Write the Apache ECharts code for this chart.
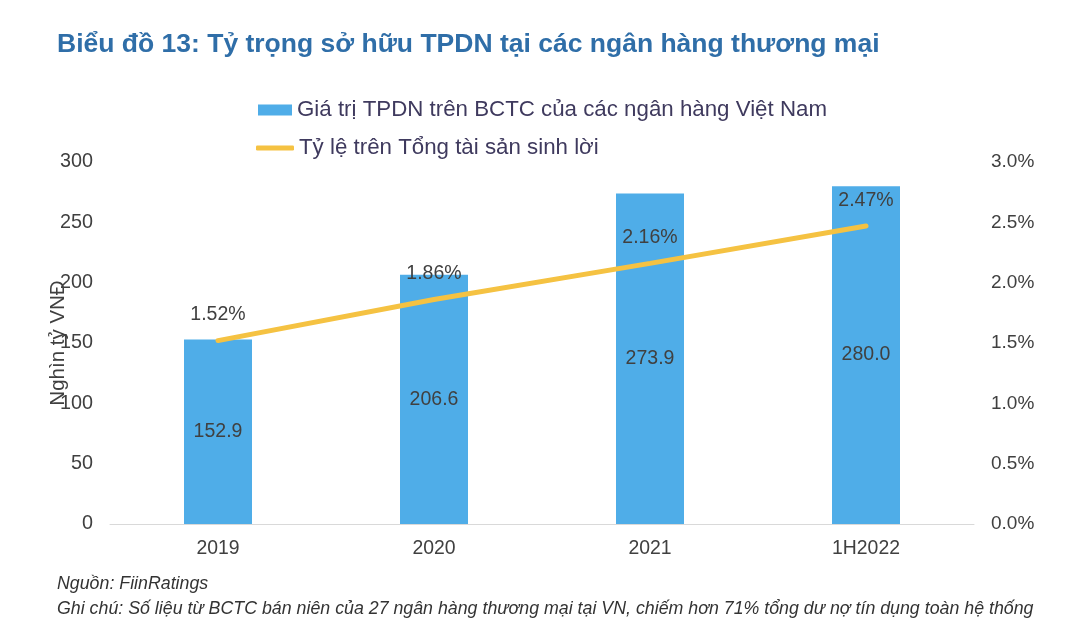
<!DOCTYPE html>
<html><head><meta charset="utf-8">
<script src="https://cdn.jsdelivr.net/npm/echarts@6/dist/echarts.min.js"></script>
<style>html,body{margin:0;padding:0;background:#fff}#c{width:1076px;height:640px}</style>
</head><body><div id="c"></div>
<script>
var categories = ['2019', '2020', '2021', '1H2022'];
var barValues = [152.9, 206.6, 273.9, 280.0];
var ratioValues = [1.52, 1.86, 2.16, 2.47];
var barName = 'Giá trị TPDN trên BCTC của các ngân hàng Việt Nam';
var lineName = 'Tỷ lệ trên Tổng tài sản sinh lời';

var F = '"Liberation Sans", Arial, sans-serif';
var chart = echarts.init(document.getElementById('c'));
chart.setOption({
  animation: false,
  textStyle: { fontFamily: F },
  title: [
    { text: 'Biểu đồ 13: Tỷ trọng sở hữu TPDN tại các ngân hàng thương mại', left: 52, top: 26,
      textStyle: { fontFamily: F, fontSize: 26.5, fontWeight: 'bold', color: '#2F6EA8' } },
    { text: 'Nguồn: FiinRatings', left: 52, top: 570,
      textStyle: { fontFamily: F, fontSize: 17.8, fontStyle: 'italic', fontWeight: 'normal', color: '#333' } },
    { text: 'Ghi chú: Số liệu từ BCTC bán niên của 27 ngân hàng thương mại tại VN, chiếm hơn 71% tổng dư nợ tín dụng toàn hệ thống', left: 52, top: 595,
      textStyle: { fontFamily: F, fontSize: 17.8, fontStyle: 'italic', fontWeight: 'normal', color: '#333' } }
  ],
  legend: [
    { data: [{ name: barName, icon: 'rect' }], left: 253, top: 94, itemWidth: 34, itemHeight: 11, itemGap: 6,
      textStyle: { fontFamily: F, fontSize: 22.3, color: '#3F3A5E' } },
    { data: [{ name: lineName, icon: 'roundRect' }], left: 251, top: 132, itemWidth: 38, itemHeight: 5, itemGap: 4,
      textStyle: { fontFamily: F, fontSize: 22.3, color: '#3F3A5E' } }
  ],
  grid: { left: 110, right: 102, top: 162, bottom: 116, containLabel: false },
  xAxis: {
    type: 'category', data: categories,
    axisLine: { lineStyle: { color: '#D9D9D9', width: 1 } },
    axisTick: { show: false },
    axisLabel: { fontSize: 19.4, color: '#404040', margin: 15, fontFamily: F }
  },
  yAxis: [
    { type: 'value', min: 0, max: 300, interval: 50,
      name: 'Nghìn tỷ VNĐ', nameLocation: 'middle', nameGap: 41, nameRotate: 90, nameMoveOverlap: false,
      nameTextStyle: { fontSize: 20.5, color: '#404040', fontFamily: F },
      axisLine: { show: false }, axisTick: { show: false }, splitLine: { show: false },
      axisLabel: { fontSize: 19.8, color: '#404040', margin: 17, fontFamily: F } },
    { type: 'value', min: 0, max: 3, interval: 0.5,
      axisLine: { show: false }, axisTick: { show: false }, splitLine: { show: false },
      axisLabel: { fontSize: 19, color: '#404040', margin: 17, fontFamily: F,
        formatter: function (v) { return v.toFixed(1) + '%'; } } }
  ],
  series: [
    { name: barName, type: 'bar', data: barValues, barWidth: 68, yAxisIndex: 0,
      itemStyle: { color: '#4FADE8' },
      label: { show: true, position: 'inside', fontSize: 19.5, color: '#404040', fontFamily: F,
        formatter: function (p) { return p.value.toFixed(1); } } },
    { name: lineName, type: 'line', data: ratioValues, yAxisIndex: 1,
      symbol: 'circle', symbolSize: 1, showSymbol: true,
      itemStyle: { color: '#F5C242' },
      lineStyle: { color: '#F5C242', width: 5, cap: 'round' },
      label: { show: true, position: 'top', distance: 15, fontSize: 19.5, color: '#404040', fontFamily: F,
        formatter: function (p) { return p.value.toFixed(2) + '%'; } } }
  ]
});
</script></body></html>
